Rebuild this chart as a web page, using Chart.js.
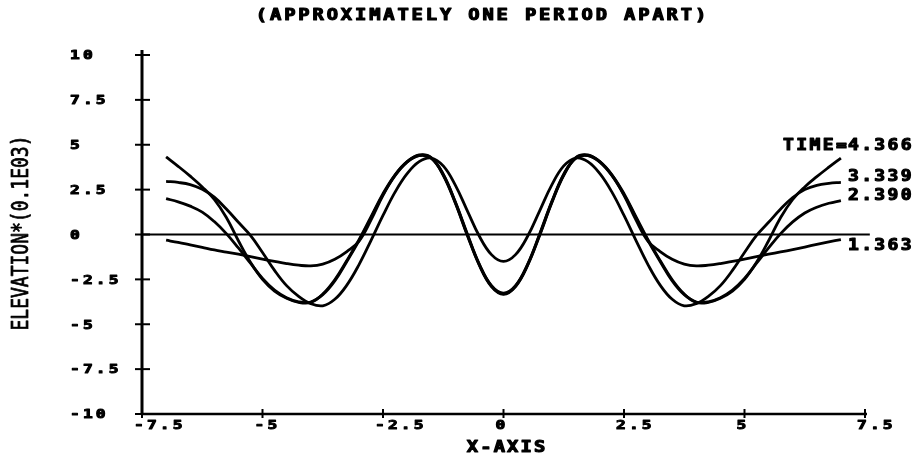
<!DOCTYPE html>
<html>
<head>
<meta charset="utf-8">
<script src="https://cdn.jsdelivr.net/npm/chart.js@4/dist/chart.umd.min.js"></script>
<style>
  html, body { margin: 0; padding: 0; background: #fff; }
  #wrap { width: 924px; height: 464px; }
</style>
</head>
<body>
<div id="wrap"><canvas id="waves"></canvas></div>
<script>
// x positions of the sampled profile
const xValues = [
  -7, -6.75, -6.5, -6.25, -6, -5.75, -5.5, -5.25, -5, -4.75, -4.5, -4.25, -4, -3.75, -3.5, -3.25,
  -3, -2.75, -2.5, -2.25, -2, -1.75, -1.5, -1.25, -1, -0.75, -0.5, -0.25, 0,
  0.25, 0.5, 0.75, 1, 1.25, 1.5, 1.75, 2, 2.25, 2.5, 2.75, 3, 3.25, 3.5, 3.75, 4, 4.25,
  4.5, 4.75, 5, 5.25, 5.5, 5.75, 6, 6.25, 6.5, 6.75, 7
];

// elevation at each time
const elevT4366 = [
  4.32, 3.80, 3.25, 2.65, 1.95, 0.95, -0.35, -1.55, -2.50, -3.15, -3.55, -3.78, -3.78, -3.32, -2.52, -1.45,
  -0.30, 0.98, 2.28, 3.33, 4.06, 4.41, 4.27, 3.33, 1.79, -0.01, -1.69, -2.87, -3.30,
  -2.87, -1.69, -0.01, 1.79, 3.33, 4.27, 4.41, 4.06, 3.33, 2.28, 0.98, -0.30, -1.45, -2.52, -3.32, -3.78, -3.78,
  -3.55, -3.15, -2.50, -1.55, -0.35, 0.95, 1.95, 2.65, 3.22, 3.75, 4.26
];
const elevT3339 = [
  2.96, 2.90, 2.78, 2.52, 2.08, 1.42, 0.68, -0.05, -1.00, -2.00, -2.85, -3.45, -3.85, -3.97, -3.61, -2.82,
  -1.69, -0.34, 1.06, 2.36, 3.39, 4.06, 4.26, 3.82, 2.75, 1.32, -0.10, -1.12, -1.50,
  -1.12, -0.10, 1.32, 2.75, 3.82, 4.26, 4.06, 3.39, 2.36, 1.06, -0.34, -1.69, -2.82, -3.61, -3.97, -3.85, -3.45,
  -2.85, -2.00, -1.00, -0.05, 0.68, 1.42, 2.06, 2.50, 2.74, 2.85, 2.90
];
const elevT2390 = [
  2.00, 1.82, 1.58, 1.25, 0.72, 0.05, -0.75, -1.60, -2.45, -3.10, -3.52, -3.75, -3.76, -3.35, -2.58, -1.50,
  -0.35, 0.92, 2.22, 3.28, 4.03, 4.40, 4.25, 3.30, 1.75, -0.05, -1.72, -2.90, -3.33,
  -2.90, -1.72, -0.05, 1.75, 3.30, 4.25, 4.40, 4.03, 3.28, 2.22, 0.92, -0.35, -1.50, -2.58, -3.35, -3.76, -3.75,
  -3.52, -3.10, -2.45, -1.60, -0.75, 0.05, 0.70, 1.20, 1.52, 1.74, 1.89
];
const elevT1363 = [
  -0.32, -0.44, -0.58, -0.72, -0.86, -0.98, -1.10, -1.23, -1.37, -1.50, -1.62, -1.71, -1.75, -1.65, -1.38, -0.95,
  -0.38, 0.80, 2.18, 3.30, 4.05, 4.43, 4.29, 3.36, 1.82, 0.03, -1.66, -2.85, -3.27,
  -2.85, -1.66, 0.03, 1.82, 3.36, 4.29, 4.43, 4.05, 3.30, 2.18, 0.80, -0.38, -0.95, -1.38, -1.65, -1.75, -1.71,
  -1.62, -1.50, -1.37, -1.23, -1.10, -0.97, -0.84, -0.70, -0.55, -0.41, -0.28
];

const seriesLabels = ['4.366', '3.339', '2.390', '1.363'];
const xTicks = [-7.5, -5, -2.5, 0, 2.5, 5, 7.5];
const xTickLabels = ['-7.5', '-5', '-2.5', '0', '2.5', '5', '7.5'];
const yTicks = [10, 7.5, 5, 2.5, 0, -2.5, -5, -7.5, -10];
const yTickLabels = ['10', '7.5', '5', '2.5', '0', '-2.5', '-5', '-7.5', '-10'];
const baseline = [[-7.5, 0], [7.6, 0]];

const toPoints = arr => xValues.map((x, i) => ({ x: x, y: arr[i] }));

// wide plotter-style lettering
function plotText(ctx, str, x, y, o) {
  const size = o.size || 15, sx = o.sx || 1, sy = o.sy || 1;
  const spacing = o.spacing || 0;
  ctx.save();
  ctx.translate(x, y);
  if (o.rotate) ctx.rotate(o.rotate);
  ctx.scale(sx, sy);
  ctx.font = (o.weight || 'bold') + ' ' + size + 'px "DejaVu Sans Mono"';
  ctx.letterSpacing = spacing + 'px';
  ctx.textBaseline = 'middle';
  ctx.textAlign = 'left';
  const w = ctx.measureText(str).width - spacing;
  let dx = 0;
  if (o.align === 'center') dx = -w / 2;
  else if (o.align === 'right') dx = -w;
  ctx.fillStyle = '#000';
  ctx.strokeStyle = '#000';
  ctx.lineJoin = 'round';
  ctx.lineWidth = o.stroke === undefined ? 1 : o.stroke;
  if (ctx.lineWidth > 0) ctx.strokeText(str, dx, 0);
  ctx.fillText(str, dx, 0);
  ctx.restore();
}

const plotterAxes = {
  id: 'plotterAxes',
  afterDatasetsDraw(chart) {
    const ctx = chart.ctx;
    const xs = chart.scales.x, ys = chart.scales.y;
    const x0 = xs.getPixelForValue(-7.5), x1 = xs.getPixelForValue(7.5);
    const yTop = ys.getPixelForValue(10), yBot = ys.getPixelForValue(-10);

    ctx.save();
    ctx.strokeStyle = '#000';
    ctx.lineCap = 'butt';

    // vertical axis
    ctx.lineWidth = 3;
    ctx.beginPath();
    ctx.moveTo(x0, yTop - 5);
    ctx.lineTo(x0, yBot + 1);
    ctx.stroke();
    ctx.lineWidth = 2;
    yTicks.forEach(v => {
      const py = ys.getPixelForValue(v);
      ctx.beginPath();
      ctx.moveTo(x0 - 7, py);
      ctx.lineTo(x0 + 8, py);
      ctx.stroke();
    });

    // horizontal axis
    ctx.lineWidth = 2.5;
    ctx.beginPath();
    ctx.moveTo(x0, yBot);
    ctx.lineTo(x1 + 2, yBot);
    ctx.stroke();
    ctx.lineWidth = 2;
    xTicks.forEach(v => {
      const px = xs.getPixelForValue(v);
      ctx.beginPath();
      ctx.moveTo(px, yBot - 5);
      ctx.lineTo(px, yBot + 4);
      ctx.stroke();
    });
    ctx.restore();

    // tick labels
    const tick = { size: 12.5, sx: 1.3, spacing: 2.4, stroke: 1 };
    xTicks.forEach((v, i) => {
      plotText(ctx, xTickLabels[i], xs.getPixelForValue(v) - 8, yBot + 12, tick);
    });
    yTicks.forEach((v, i) => {
      plotText(ctx, yTickLabels[i], 70, ys.getPixelForValue(v) + 1, tick);
    });

    // titles
    plotText(ctx, '(APPROXIMATELY ONE PERIOD APART)', 481, 16,
      { size: 15, sx: 1.25, spacing: 2.3, align: 'center', stroke: 1.1 });
    plotText(ctx, 'X-AXIS', 506, 448, { size: 15, sx: 1.25, spacing: 1.7, align: 'center', stroke: 1.1 });
    plotText(ctx, 'ELEVATION*(0.1E03)', 22, 233,
      { size: 18, sy: 1.3, weight: 'normal', align: 'center', rotate: -Math.PI / 2, stroke: 0.6 });

    // curve labels at the right-hand ends
    const shifts = [-12, -5, -4, 7];
    const lx = xs.getPixelForValue(xValues[xValues.length - 1]) + 7;
    chart.data.datasets.slice(0, 4).forEach((ds, i) => {
      const last = ds.data[ds.data.length - 1];
      const py = ys.getPixelForValue(last.y) + shifts[i];
      const lab = { size: 15, sx: 1.2, spacing: 2.0, stroke: 1.1 };
      plotText(ctx, seriesLabels[i], lx, py, lab);
      if (i === 0) plotText(ctx, 'TIME=', lx - 1, py, Object.assign({ align: 'right' }, lab));
    });
  }
};

const lineStyle = {
  borderColor: '#000',
  borderWidth: 2.8,
  pointRadius: 0,
  tension: 0.4,
  fill: false
};

new Chart(document.getElementById('waves'), {
  type: 'line',
  data: {
    datasets: [
      Object.assign({ label: 'TIME=4.366', data: toPoints(elevT4366) }, lineStyle),
      Object.assign({ label: '3.339', data: toPoints(elevT3339) }, lineStyle),
      Object.assign({ label: '2.390', data: toPoints(elevT2390) }, lineStyle),
      Object.assign({ label: '1.363', data: toPoints(elevT1363) }, lineStyle),
      {
        label: 'zero',
        data: baseline.map(p => ({ x: p[0], y: p[1] })),
        borderColor: '#000',
        borderWidth: 2,
        pointRadius: 0,
        tension: 0,
        clip: false
      }
    ]
  },
  options: {
    animation: false,
    responsive: true,
    maintainAspectRatio: false,
    devicePixelRatio: 1,
    layout: { padding: { left: 142, right: 59, top: 55, bottom: 50 } },
    plugins: {
      legend: { display: false },
      tooltip: { enabled: false },
      title: { display: false }
    },
    scales: {
      x: { type: 'linear', min: -7.5, max: 7.5, display: false },
      y: { type: 'linear', min: -10, max: 10, display: false }
    }
  },
  plugins: [plotterAxes]
});
</script>
</body>
</html>
